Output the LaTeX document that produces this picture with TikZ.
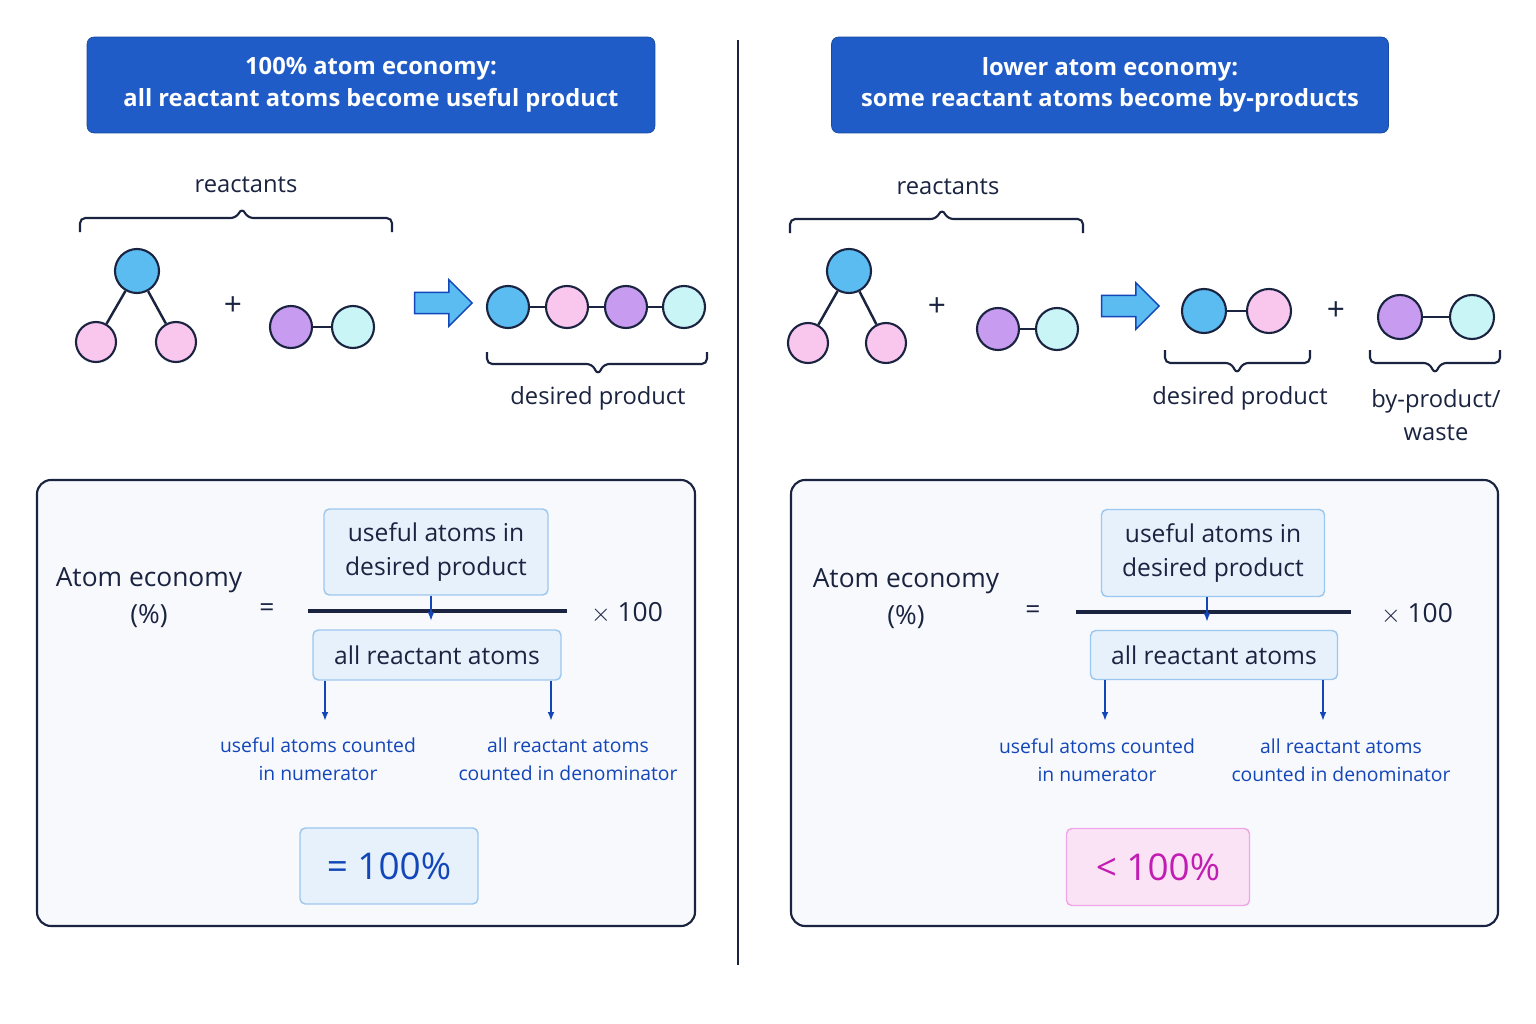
\documentclass[tikz,border=0pt]{standalone}
\usepackage{fontspec}
\setmainfont{Open Sans}
\usetikzlibrary{arrows.meta,shapes.arrows}
\definecolor{navy}{HTML}{1A2340}
\definecolor{titleblue}{HTML}{1F5CC8}
\definecolor{textblue}{HTML}{1346B8}
\definecolor{atomblue}{HTML}{5BBCF2}
\definecolor{atompink}{HTML}{F9C6EE}
\definecolor{atompurple}{HTML}{C79BF0}
\definecolor{atomcyan}{HTML}{C9F5F7}
\definecolor{boxfill}{HTML}{E6F1FB}
\definecolor{boxline}{HTML}{9CC7EE}
\definecolor{pinkfill}{HTML}{FBE3F6}
\definecolor{pinkline}{HTML}{F0A6E6}
\definecolor{magenta}{HTML}{C21DB3}
\definecolor{panelfill}{HTML}{F8F9FD}
\tikzset{
  atom/.style={circle,draw=navy,line width=1.2pt,minimum size=#1*0.02cm,inner sep=0pt},
  bond/.style={navy,line width=1.4pt},
  title/.style={rounded corners=4pt,fill=titleblue,draw=titleblue!80!black,text=white,
    font=\bfseries\fontsize{13.5}{18}\selectfont,align=center},
  lbl/.style={text=navy,font=\fontsize{13.5}{19}\selectfont,align=center},
  term/.style={rounded corners=3pt,fill=boxfill,draw=boxline,line width=0.8pt,text=navy,
    font=\fontsize{14}{19}\selectfont,align=center,inner sep=0pt},
  note/.style={text=textblue,font=\fontsize{11}{16}\selectfont,align=center},
  down/.style={-{Latex[length=5pt]},textblue,line width=1pt},
  bigarrow/.style={single arrow,draw=textblue,fill=atomblue,line width=0.8pt,
    minimum height=1.15cm,inner xsep=0pt,inner ysep=0.2cm,single arrow head extend=0.25cm},
  panel/.style={rounded corners=8pt,draw=navy,line width=1.2pt,fill=panelfill}
}
\begin{document}
\begin{tikzpicture}[x=0.02cm,y=-0.02cm]
  \useasboundingbox[fill=white] (0,0) rectangle (1536,1024);
  % divider
  \draw[navy,line width=1.5pt] (738,40) -- (738,965);

  % ---- left panel ----
  \node[title,minimum width=11.36cm,minimum height=1.92cm] (tl) at (371,85)
    {100\% atom economy:\\all reactant atoms become useful product};
  \node[lbl] (rl) at (246,185) {reactants};
  \draw[navy,line width=1.2pt,rounded corners=3pt] (80,232) -- (80,218) -- (236,218) -- (242,208) -- (248,218) -- (392,218) -- (392,232);
  \node[atom=44,fill=atomblue] (a1) at (137,271) {};
  \node[atom=40,fill=atompink] (a2) at (96,342) {};
  \node[atom=40,fill=atompink] (a3) at (176,342) {};
  \draw[bond] (a1) -- (a2) (a1) -- (a3);
  \node[lbl,font=\fontsize{18}{20}\selectfont] (p1) at (233,306) {+};
  \node[atom=42,fill=atompurple] (b1) at (291,327) {};
  \node[atom=42,fill=atomcyan] (b2) at (353,327) {};
  \draw[bond] (b1) -- (b2);
  \node[bigarrow] (ar1) at (438,303) {};
  \foreach \x/\c [count=\i] in {508/atomblue,567/atompink,626/atompurple,684/atomcyan}
    \node[atom=42,fill=\c] (c\i) at (\x,307) {};
  \foreach \i/\j in {1/2,2/3,3/4} \draw[bond] (c\i) -- (c\j);
  \draw[navy,line width=1.2pt,rounded corners=3pt] (487,352) -- (487,364) -- (592,364) -- (598,375) -- (604,364) -- (707,364) -- (707,352);
  \node[lbl] (dl) at (598,398) {desired product};

  \draw[panel] (37,480) rectangle (695,926);
  \node[lbl,font=\fontsize{15}{21}\selectfont] (ael) at (149,598) {Atom economy\\(\%)};
  \node[lbl,font=\fontsize{15}{20}\selectfont] (eql) at (267,610) {=};
  \node[term,minimum width=4.48cm,minimum height=1.72cm] (nl) at (436,552) {useful atoms in\\desired product};
  \coordinate (fl1) at (308,611); \coordinate (fl2) at (567,611);
  \draw[navy,line width=1.8pt] (fl1) -- (fl2);
  \coordinate (nla) at (431,621);
  \draw[down] (nl.south -| nla) -- (nla);
  \node[lbl,font=\fontsize{15}{20}\selectfont] (xl) at (627,613) {$\times$ 100};
  \node[term,minimum width=4.96cm,minimum height=1cm] (dnl) at (437,655) {all reactant atoms};
  \coordinate (ul) at (325,721); \coordinate (vl) at (551,721);
  \draw[down] (dnl.south -| ul) -- (ul);
  \draw[down] (dnl.south -| vl) -- (vl);
  \node[note] (nul) at (318,759) {useful atoms counted\\in numerator};
  \node[note] (nvl) at (568,759) {all reactant atoms\\counted in denominator};
  \node[term,minimum width=3.56cm,minimum height=1.52cm,text=textblue,font=\fontsize{21}{24}\selectfont] (rsl) at (389,866) {= 100\%};

  % ---- right panel ----
  \node[title,minimum width=11.14cm,minimum height=1.92cm] (tr) at (1110,85)
    {lower atom economy:\\some reactant atoms become by-products};
  \node[lbl] (rr) at (948,187) {reactants};
  \draw[navy,line width=1.2pt,rounded corners=3pt] (790,233) -- (790,219) -- (936,219) -- (942,209) -- (948,219) -- (1083,219) -- (1083,233);
  \node[atom=44,fill=atomblue] (d1) at (849,271) {};
  \node[atom=40,fill=atompink] (d2) at (808,343) {};
  \node[atom=40,fill=atompink] (d3) at (886,343) {};
  \draw[bond] (d1) -- (d2) (d1) -- (d3);
  \node[lbl,font=\fontsize{18}{20}\selectfont] (p2) at (937,307) {+};
  \node[atom=42,fill=atompurple] (e1) at (998,329) {};
  \node[atom=42,fill=atomcyan] (e2) at (1057,329) {};
  \draw[bond] (e1) -- (e2);
  \node[bigarrow] (ar2) at (1125,306) {};
  \node[atom=44,fill=atomblue] (f1) at (1204,311) {};
  \node[atom=44,fill=atompink] (f2) at (1269,311) {};
  \draw[bond] (f1) -- (f2);
  \node[lbl,font=\fontsize{18}{20}\selectfont] (p3) at (1336,311) {+};
  \node[atom=44,fill=atompurple] (g1) at (1400,317) {};
  \node[atom=44,fill=atomcyan] (g2) at (1472,317) {};
  \draw[bond] (g1) -- (g2);
  \draw[navy,line width=1.2pt,rounded corners=3pt] (1165,350) -- (1165,363) -- (1231,363) -- (1237,374) -- (1243,363) -- (1310,363) -- (1310,350);
  \draw[navy,line width=1.2pt,rounded corners=3pt] (1370,350) -- (1370,363) -- (1429,363) -- (1435,374) -- (1441,363) -- (1500,363) -- (1500,350);
  \node[lbl] (dr) at (1240,398) {desired product};
  \node[lbl] (wr) at (1436,415) {by-product/\\waste};

  \draw[panel] (791,480) rectangle (1498,926);
  \node[lbl,font=\fontsize{15}{21}\selectfont] (aer) at (906,599) {Atom economy\\(\%)};
  \node[lbl,font=\fontsize{15}{20}\selectfont] (eqr) at (1033,612) {=};
  \node[term,minimum width=4.46cm,minimum height=1.74cm] (nr) at (1213,553) {useful atoms in\\desired product};
  \coordinate (fr1) at (1076,612); \coordinate (fr2) at (1351,612);
  \draw[navy,line width=1.8pt] (fr1) -- (fr2);
  \coordinate (nra) at (1207,622);
  \draw[down] (nr.south -| nra) -- (nra);
  \node[lbl,font=\fontsize{15}{20}\selectfont] (xr) at (1417,614) {$\times$ 100};
  \node[term,minimum width=4.94cm,minimum height=0.98cm] (dnr) at (1214,655) {all reactant atoms};
  \coordinate (ur) at (1105,721); \coordinate (vr) at (1323,721);
  \draw[down] (dnr.south -| ur) -- (ur);
  \draw[down] (dnr.south -| vr) -- (vr);
  \node[note] (nur) at (1097,760) {useful atoms counted\\in numerator};
  \node[note] (nvr) at (1341,760) {all reactant atoms\\counted in denominator};
  \node[term,fill=pinkfill,draw=pinkline,minimum width=3.66cm,minimum height=1.54cm,text=magenta,font=\fontsize{21}{24}\selectfont] (rsr) at (1158,867) {< 100\%};
\end{tikzpicture}
\end{document}
